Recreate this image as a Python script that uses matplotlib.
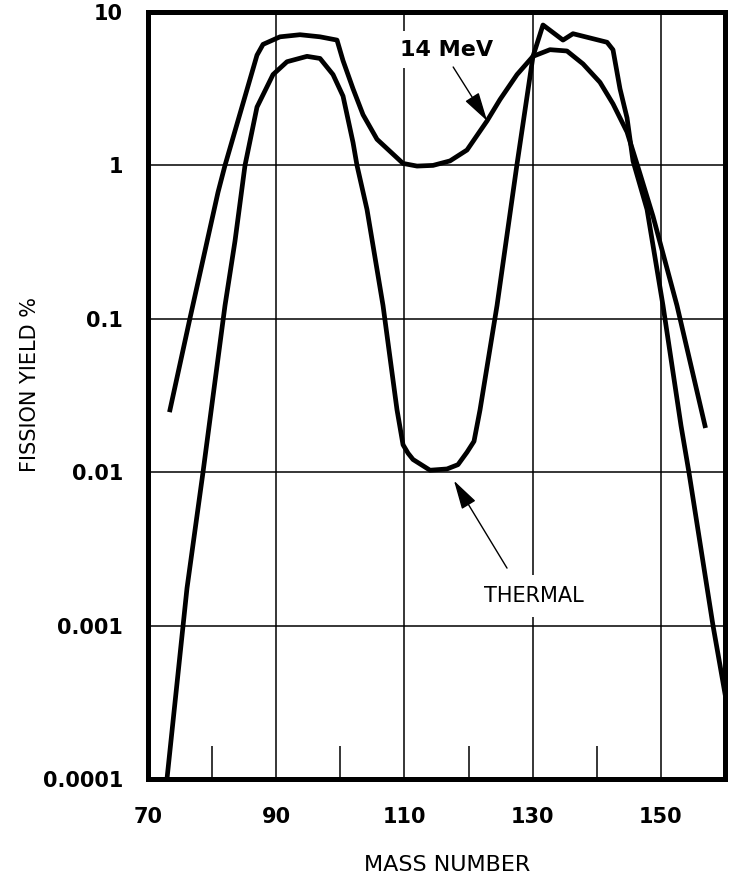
import matplotlib
matplotlib.use("Agg")
import matplotlib.pyplot as plt
from matplotlib.ticker import FixedLocator, FixedFormatter, NullLocator

# ---- data ----
thermal_mass = [72.96, 76.08, 78.58, 82.01, 83.57, 85.13, 87.0, 89.5, 91.68, 94.8,
                96.83, 98.86, 100.42, 101.98, 102.6, 104.16, 106.66, 108.84, 109.78,
                110.56, 111.34, 113.99, 116.64, 118.35, 119.76, 120.85, 121.79,
                124.44, 127.56, 130.05, 131.61, 134.73, 136.29, 141.6, 142.53,
                143.62, 144.72, 145.65, 147.84, 150.33, 153.14, 154.39, 158.13, 160.0]
thermal_yield = [1.0e-4, 0.00175, 0.010, 0.122, 0.321, 1.0, 2.40, 3.91, 4.74, 5.14,
                 4.98, 3.91, 2.83, 1.41, 1.0, 0.516, 0.122, 0.0255, 0.0151,
                 0.0133, 0.0121, 0.0103, 0.0105, 0.0112, 0.0135, 0.0159, 0.0255,
                 0.122, 1.02, 5.14, 8.23, 6.56, 7.22, 6.35, 5.67,
                 3.16, 2.04, 1.07, 0.516, 0.122, 0.0201, 0.0099, 0.001, 0.00036]

mev14_mass = [73.43, 76.55, 80.92, 82.01, 87.0, 87.94, 90.59, 93.71, 96.83, 99.48,
              100.42, 101.98, 103.54, 105.72, 109.78, 111.96, 114.46, 117.11, 119.76,
              122.88, 124.91, 127.56, 130.05, 132.7, 135.35, 137.85, 140.5, 142.53,
              144.72, 146.28, 148.77, 152.51, 156.88]
mev14_yield = [0.0255, 0.101, 0.668, 1.0, 5.23, 6.15, 6.89, 7.11, 6.89, 6.56,
               4.82, 3.16, 2.14, 1.48, 1.03, 0.99, 1.0, 1.07, 1.26,
               1.95, 2.69, 3.91, 5.14, 5.68, 5.57, 4.59, 3.48, 2.52,
               1.65, 1.02, 0.466, 0.122, 0.0201]

x_ticks = [70, 90, 110, 130, 150]
x_tick_labels = ["70", "90", "110", "130", "150"]
x_minor = [80, 100, 120, 140]
y_ticks = [1e-4, 1e-3, 1e-2, 1e-1, 1, 10]
y_tick_labels = ["0.0001", "0.001", "0.01", "0.1", "1", "10"]

# ---- figure ----
fig = plt.figure(figsize=(7.31, 8.82), dpi=100)
ax = fig.add_axes([148/731, (882-779)/882, 577/731, 767/882])

ax.set_yscale("log")
ax.set_xlim(70, 160)
ax.set_ylim(1e-4, 10)

ax.plot(thermal_mass, thermal_yield, color="black", lw=3.4, zorder=3)
ax.plot(mev14_mass, mev14_yield, color="black", lw=3.4, zorder=3)

ax.xaxis.set_major_locator(FixedLocator(x_ticks))
ax.xaxis.set_major_formatter(FixedFormatter(x_tick_labels))
ax.xaxis.set_minor_locator(FixedLocator(x_minor))
ax.yaxis.set_major_locator(FixedLocator(y_ticks))
ax.yaxis.set_major_formatter(FixedFormatter(y_tick_labels))
ax.yaxis.set_minor_locator(NullLocator())

ax.tick_params(axis="both", which="major", length=0, labelsize=15, pad=20)
ax.tick_params(axis="y", which="major", pad=18)
ax.tick_params(axis="x", which="minor", direction="in", length=24, width=1.1,
               color="black")
for lab in ax.get_xticklabels() + ax.get_yticklabels():
    lab.set_fontweight("bold")
ax.grid(True, which="major", color="black", lw=1.1, zorder=1)

for s in ax.spines.values():
    s.set_linewidth(3.6)
    s.set_color("black")

fig.text(447/731, 1 - 865/882, "MASS NUMBER", ha="center", va="center", fontsize=16)
fig.text(30/731, 1 - 385/882, "FISSION YIELD %", ha="center", va="center",
         rotation=90, fontsize=15)

# annotations
ax.text(116.5, 5.68, "14 MeV", ha="center", va="center", fontsize=16,
        fontweight="bold", zorder=4,
        bbox=dict(fc="white", ec="none", pad=6))
ax.annotate("", xy=(122.9, 1.95), xytext=(117.6, 4.38),
            arrowprops=dict(arrowstyle="-|>,head_length=0.9,head_width=0.25",
                            color="black", lw=1.0, mutation_scale=20,
                            shrinkA=0, shrinkB=0), zorder=4)

ax.text(130.2, 0.00156, "THERMAL", ha="center", va="center", fontsize=15,
        zorder=4, bbox=dict(fc="white", ec="none", pad=8))
ax.annotate("", xy=(117.73, 0.0088), xytext=(126.0, 0.00237),
            arrowprops=dict(arrowstyle="-|>,head_length=0.9,head_width=0.25",
                            color="black", lw=1.0, mutation_scale=20,
                            shrinkA=0, shrinkB=0), zorder=4)

fig.savefig("out.png", dpi=100)
